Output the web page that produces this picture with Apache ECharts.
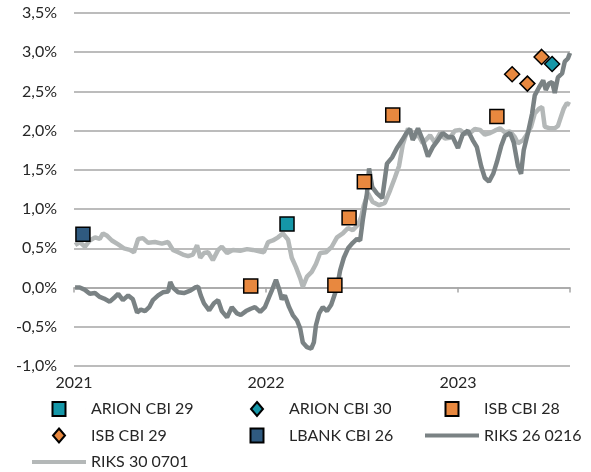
<!DOCTYPE html>
<html><head><meta charset="utf-8">
<script src="https://cdn.jsdelivr.net/npm/echarts@6/dist/echarts.min.js"></script>
<style>html,body{margin:0;padding:0;background:#fff}#c{width:591px;height:472px}</style>
</head><body><div id="c"></div>
<script>
const startDate = '2021-01-01';
const endDate = '2023-08-02';
const yearLabels = ['2021', '2022', '2023'];
const yTicks = [-1.0, -0.5, 0.0, 0.5, 1.0, 1.5, 2.0, 2.5, 3.0, 3.5];

const arionCbi29 = [['2022-02-10', 0.81]];
const arionCbi30 = [['2023-06-29', 2.85]];
const isbCbi28 = [['2021-12-03', 0.02], ['2022-05-12', 0.03], ['2022-06-08', 0.89], ['2022-07-07', 1.35], ['2022-08-30', 2.20], ['2023-03-16', 2.18]];
const isbCbi29 = [['2023-04-14', 2.72], ['2023-05-13', 2.60], ['2023-06-09', 2.94]];
const lbankCbi26 = [['2021-01-18', 0.68]];

const riks260216 = [
['2021-01-03',0.00],['2021-01-12',0.00],['2021-01-22',-0.03],['2021-01-31',-0.08],['2021-02-10',-0.07],['2021-02-19',-0.12],
['2021-02-27',-0.14],['2021-03-10',-0.18],['2021-03-20',-0.12],['2021-03-26',-0.08],['2021-04-04',-0.16],['2021-04-14',-0.10],
['2021-04-23',-0.15],['2021-05-01',-0.32],['2021-05-08',-0.28],['2021-05-16',-0.30],['2021-05-24',-0.25],['2021-05-31',-0.16],
['2021-06-10',-0.10],['2021-06-19',-0.06],['2021-06-29',-0.05],['2021-07-03',0.07],['2021-07-08',0.00],['2021-07-18',-0.06],
['2021-07-29',-0.07],['2021-08-10',-0.04],['2021-08-19',0.00],['2021-08-25',0.01],['2021-08-30',-0.10],['2021-09-05',-0.20],
['2021-09-15',-0.29],['2021-09-24',-0.20],['2021-10-02',-0.16],['2021-10-09',-0.30],['2021-10-19',-0.38],['2021-10-28',-0.25],
['2021-11-07',-0.33],['2021-11-14',-0.35],['2021-11-24',-0.30],['2021-12-03',-0.27],['2021-12-11',-0.25],['2021-12-21',-0.31],
['2021-12-30',-0.25],['2022-01-07',-0.12],['2022-01-12',-0.04],['2022-01-20',0.10],['2022-01-26',-0.02],['2022-01-31',-0.15],
['2022-02-06',-0.10],['2022-02-14',-0.25],['2022-02-21',-0.35],['2022-03-01',-0.42],['2022-03-07',-0.52],['2022-03-12',-0.70],
['2022-03-20',-0.76],['2022-03-28',-0.78],['2022-04-02',-0.70],['2022-04-06',-0.48],['2022-04-12',-0.33],['2022-04-19',-0.25],
['2022-04-27',-0.30],['2022-05-05',-0.22],['2022-05-10',-0.12],['2022-05-16',0.00],['2022-05-22',0.22],['2022-05-29',0.38],
['2022-06-06',0.50],['2022-06-15',0.57],['2022-06-23',0.62],['2022-06-29',0.60],['2022-07-04',0.86],['2022-07-12',1.20],
['2022-07-16',1.52],['2022-07-22',1.28],['2022-07-31',1.20],['2022-08-10',1.14],['2022-08-19',1.58],['2022-08-29',1.66],
['2022-09-07',1.78],['2022-09-17',1.88],['2022-09-26',1.98],['2022-10-02',2.02],['2022-10-07',1.88],['2022-10-17',2.03],
['2022-10-26',1.88],['2022-11-05',1.67],['2022-11-14',1.79],['2022-11-24',1.88],['2022-12-03',1.97],['2022-12-13',1.92],
['2022-12-22',1.92],['2023-01-01',1.78],['2023-01-10',1.95],['2023-01-20',2.00],['2023-01-29',1.88],['2023-02-06',1.79],
['2023-02-14',1.55],['2023-02-21',1.40],['2023-03-01',1.35],['2023-03-09',1.45],['2023-03-16',1.60],['2023-03-24',1.80],
['2023-03-31',1.93],['2023-04-10',1.97],['2023-04-17',1.85],['2023-04-25',1.55],['2023-05-01',1.45],['2023-05-06',1.75],
['2023-05-14',1.97],['2023-05-22',2.22],['2023-05-27',2.45],['2023-06-04',2.55],['2023-06-12',2.64],['2023-06-17',2.52],
['2023-06-23',2.60],['2023-06-29',2.62],['2023-07-04',2.48],['2023-07-10',2.68],['2023-07-18',2.73],['2023-07-23',2.88],
['2023-07-29',2.92],['2023-08-02',2.99]
];

const riks300701 = [
['2021-01-03',0.54],['2021-01-12',0.58],['2021-01-22',0.52],['2021-01-31',0.60],['2021-02-10',0.64],['2021-02-19',0.62],
['2021-02-25',0.69],['2021-03-05',0.66],['2021-03-14',0.60],['2021-03-26',0.55],['2021-04-06',0.50],['2021-04-17',0.48],
['2021-04-25',0.45],['2021-05-03',0.62],['2021-05-12',0.63],['2021-05-22',0.57],['2021-06-04',0.58],['2021-06-17',0.56],
['2021-06-29',0.58],['2021-07-08',0.48],['2021-07-18',0.45],['2021-07-27',0.42],['2021-08-06',0.40],['2021-08-15',0.42],
['2021-08-23',0.54],['2021-08-29',0.38],['2021-09-05',0.44],['2021-09-13',0.45],['2021-09-22',0.35],['2021-10-02',0.48],
['2021-10-09',0.52],['2021-10-19',0.44],['2021-10-30',0.48],['2021-11-13',0.47],['2021-11-26',0.49],['2021-12-07',0.48],
['2021-12-21',0.46],['2021-12-28',0.45],['2022-01-05',0.58],['2022-01-14',0.60],['2022-01-24',0.64],['2022-02-02',0.69],
['2022-02-12',0.61],['2022-02-19',0.38],['2022-02-27',0.26],['2022-03-07',0.12],['2022-03-12',0.01],['2022-03-20',0.14],
['2022-03-29',0.20],['2022-04-06',0.30],['2022-04-14',0.44],['2022-04-25',0.45],['2022-05-06',0.52],['2022-05-16',0.64],
['2022-05-27',0.69],['2022-06-06',0.76],['2022-06-15',0.73],['2022-06-25',0.80],['2022-07-01',0.90],['2022-07-06',1.05],
['2022-07-14',1.20],['2022-07-23',1.09],['2022-08-04',1.05],['2022-08-15',1.08],['2022-08-25',1.24],['2022-09-03',1.40],
['2022-09-11',1.55],['2022-09-18',1.82],['2022-09-28',2.03],['2022-10-07',1.90],['2022-10-17',1.95],['2022-10-26',1.84],
['2022-11-09',1.94],['2022-11-18',1.85],['2022-11-28',1.97],['2022-12-07',1.90],['2022-12-17',1.91],['2022-12-26',2.00],
['2023-01-05',2.01],['2023-01-14',1.96],['2023-01-24',1.97],['2023-02-02',2.02],['2023-02-12',2.01],['2023-02-21',1.95],
['2023-03-03',1.97],['2023-03-12',2.00],['2023-03-22',2.03],['2023-03-31',1.98],['2023-04-10',1.99],['2023-04-19',1.92],
['2023-04-25',1.84],['2023-05-05',1.88],['2023-05-12',1.95],['2023-05-20',2.05],['2023-05-27',2.22],['2023-06-04',2.28],
['2023-06-10',2.30],['2023-06-15',2.05],['2023-06-25',2.03],['2023-07-04',2.03],['2023-07-10',2.06],['2023-07-16',2.18],
['2023-07-21',2.28],['2023-07-27',2.35],['2023-08-02',2.33]
];

const DAY = 864e5;
const t0 = Date.parse(startDate);
const toDay = s => (Date.parse(s) - t0) / DAY;
const conv = arr => arr.map(p => [toDay(p[0]), p[1]]);
const xMax = toDay(endDate);
const fontFam = 'Lato, "Open Sans", sans-serif';
const txt = '#262626';
const grid = '#a6a6a6';
const darkLine = '#7a8284';
const lightLine = '#b4b8b8';

// legend icons drawn inside a 54x14 box (invisible end points keep the box size)
const sqIcon = 'path://M0,7L0.001,7M20.5,0.5L33.5,0.5L33.5,13.5L20.5,13.5ZM54,7L54.001,7';
const dmIcon = 'path://M0,7L0.001,7M27,1L33,7L27,13L21,7ZM54,7L54.001,7';
const lnIcon = 'path://M0,0L0.001,0M0,5L54,5L54,9L0,9ZM0,14L0.001,14';

const chart = echarts.init(document.getElementById('c'), null, {renderer: 'canvas'});
const markerBase = {type: 'scatter', xAxisIndex: 0, z: 5, symbolSize: 14,
  itemStyle: {borderColor: '#000', borderWidth: 1.5, opacity: 1}};
const legendCommon = {orient: 'vertical', itemWidth: 54, itemHeight: 14, itemGap: 10.5, height: 80, padding: 0,
  symbolKeepAspect: false,
  textStyle: {fontFamily: fontFam, fontSize: 16, color: txt, lineHeight: 16}, selectedMode: false};

chart.setOption({
  animation: false,
  backgroundColor: '#fff',
  grid: {left: 74, right: 21, top: 13, bottom: 106, containLabel: false},
  legend: [
    Object.assign({}, legendCommon, {left: 31, top: 401, data: [
      {name: 'ARION CBI 29', icon: sqIcon}, {name: 'ISB CBI 29', icon: dmIcon}, {name: 'RIKS 30 0701', icon: lnIcon}]}),
    Object.assign({}, legendCommon, {left: 229, top: 401, data: [
      {name: 'ARION CBI 30', icon: dmIcon}, {name: 'LBANK CBI 26', icon: sqIcon}]}),
    Object.assign({}, legendCommon, {left: 424, top: 401, data: [
      {name: 'ISB CBI 28', icon: sqIcon}, {name: 'RIKS 26 0216', icon: lnIcon}]})
  ],
  xAxis: [
    {type: 'value', min: 0, max: xMax, interval: 365, position: 'bottom',
     axisLine: {show: true, onZero: true, lineStyle: {color: grid, width: 1.5}},
     axisTick: {show: true, length: 5, lineStyle: {color: grid, width: 1.5}},
     axisLabel: {show: false}, splitLine: {show: false}},
    {type: 'value', min: 0, max: xMax, interval: 365, position: 'bottom',
     axisLine: {show: false, onZero: false}, axisTick: {show: false}, splitLine: {show: false},
     axisLabel: {show: true, margin: 9, fontFamily: fontFam, fontSize: 16, color: txt,
       formatter: v => yearLabels[Math.round(v / 365)] || ''}}
  ],
  yAxis: {type: 'value', min: yTicks[0], max: yTicks[yTicks.length - 1], interval: 0.5,
    axisLine: {show: false}, axisTick: {show: false},
    splitLine: {show: true, lineStyle: {color: grid, width: 1.5}},
    axisLabel: {margin: 17, fontFamily: fontFam, fontSize: 16, color: txt,
      formatter: v => v.toFixed(1).replace('.', ',') + '%'}},
  series: [
    {name: 'RIKS 30 0701', type: 'line', xAxisIndex: 0, data: conv(riks300701), symbol: 'none', showSymbol: false, z: 2,
     lineStyle: {color: lightLine, width: 4.5}, itemStyle: {color: lightLine}},
    {name: 'RIKS 26 0216', type: 'line', xAxisIndex: 0, data: conv(riks260216), symbol: 'none', showSymbol: false, z: 3,
     lineStyle: {color: darkLine, width: 4.5}, itemStyle: {color: darkLine}},
    Object.assign({}, markerBase, {name: 'ARION CBI 29', symbol: 'rect', data: conv(arionCbi29),
      itemStyle: Object.assign({}, markerBase.itemStyle, {color: '#1597a8'})}),
    Object.assign({}, markerBase, {name: 'ARION CBI 30', symbol: 'diamond', symbolSize: 15, data: conv(arionCbi30),
      itemStyle: Object.assign({}, markerBase.itemStyle, {color: '#1597a8'})}),
    Object.assign({}, markerBase, {name: 'ISB CBI 28', symbol: 'rect', data: conv(isbCbi28),
      itemStyle: Object.assign({}, markerBase.itemStyle, {color: '#e8883f'})}),
    Object.assign({}, markerBase, {name: 'ISB CBI 29', symbol: 'diamond', symbolSize: 15, data: conv(isbCbi29),
      itemStyle: Object.assign({}, markerBase.itemStyle, {color: '#e8883f'})}),
    Object.assign({}, markerBase, {name: 'LBANK CBI 26', symbol: 'rect', data: conv(lbankCbi26),
      itemStyle: Object.assign({}, markerBase.itemStyle, {color: '#2f5a80'})})
  ]
});
</script></body></html>
